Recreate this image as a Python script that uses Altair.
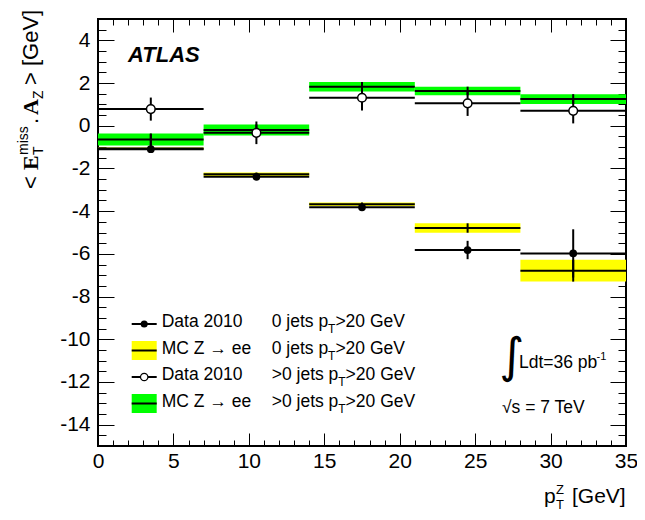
import altair as alt
import pandas as pd

# ---------------- data ----------------
bin_lo = [0, 7, 14, 21, 28]
bin_hi = [7, 14, 21, 28, 35]
bin_center = [3.5, 10.5, 17.5, 24.5, 31.5]

# Data 2010, 0 jets pT>20 GeV (filled circles)
data0 = [-1.10, -2.39, -3.82, -5.82, -5.98]
data0_err_up = [0.71, 0.10, 0.10, 0.43, 1.13]
data0_err_dn = [0.10, 0.10, 0.10, 0.43, 1.13]
# MC Z->ee, 0 jets (yellow band)
mc0 = [-1.07, -2.27, -3.68, -4.79, -6.79]
mc0_err = [0.05, 0.08, 0.08, 0.22, 0.51]
# Data 2010, >0 jets (open circles)
data1 = [0.78, -0.33, 1.31, 1.05, 0.70]
data1_err = [0.54, 0.53, 0.60, 0.59, 0.59]
# MC Z->ee, >0 jets (green band)
mc1 = [-0.64, -0.20, 1.83, 1.63, 1.25]
mc1_err = [0.28, 0.26, 0.22, 0.20, 0.23]

x_major = [0, 5, 10, 15, 20, 25, 30, 35]
x_minor = list(range(0, 36))
y_major = [-14, -12, -10, -8, -6, -4, -2, 0, 2, 4]
y_minor = [v / 2 for v in range(-30, 11)]

df = pd.DataFrame({
    "lo": bin_lo, "hi": bin_hi, "c": bin_center,
    "d0": data0,
    "d0_top": [v + e for v, e in zip(data0, data0_err_up)],
    "d0_bot": [v - e for v, e in zip(data0, data0_err_dn)],
    "m0": mc0,
    "m0_top": [v + e for v, e in zip(mc0, mc0_err)],
    "m0_bot": [v - e for v, e in zip(mc0, mc0_err)],
    "d1": data1,
    "d1_top": [v + e for v, e in zip(data1, data1_err)],
    "d1_bot": [v - e for v, e in zip(data1, data1_err)],
    "m1": mc1,
    "m1_top": [v + e for v, e in zip(mc1, mc1_err)],
    "m1_bot": [v - e for v, e in zip(mc1, mc1_err)],
})

FONT = "Liberation Sans"
SERIF = "Liberation Serif"
W, H = 528, 427
xs = alt.Scale(domain=[0, 35], nice=False, zero=False)
ys = alt.Scale(domain=[-15, 5], nice=False, zero=False)

ax_x = alt.Axis(values=x_major, ticks=False, domain=False, grid=False,
                labelFont=FONT, labelFontSize=21, labelColor="black",
                labelPadding=4, title=None, labelExpr="'' + datum.value",
                labelFlush=False)
ax_y = alt.Axis(values=y_major, ticks=False, domain=False, grid=False,
                labelFont=FONT, labelFontSize=21, labelColor="black",
                labelPadding=8, title=None, labelExpr="'' + datum.value")


def X(f):
    return alt.X(f"{f}:Q", scale=xs, axis=ax_x)


def Y(f):
    return alt.Y(f"{f}:Q", scale=ys, axis=ax_y)


base = alt.Chart(df)
yellow = base.mark_rect(color="#ffff00").encode(x=X("lo"), x2="hi", y=Y("m0_bot"), y2="m0_top")
green = base.mark_rect(color="#00ff00").encode(x=X("lo"), x2="hi", y=Y("m1_bot"), y2="m1_top")
mc0_line = base.mark_rule(color="black", strokeWidth=2).encode(x=X("lo"), x2="hi", y=Y("m0"))
mc1_line = base.mark_rule(color="black", strokeWidth=2).encode(x=X("lo"), x2="hi", y=Y("m1"))
mc0_err_l = base.mark_rule(color="black", strokeWidth=2).encode(x=X("c"), y=Y("m0_bot"), y2="m0_top")
mc1_err_l = base.mark_rule(color="black", strokeWidth=2).encode(x=X("c"), y=Y("m1_bot"), y2="m1_top")
d0_h = base.mark_rule(color="black", strokeWidth=2).encode(x=X("lo"), x2="hi", y=Y("d0"))
d1_h = base.mark_rule(color="black", strokeWidth=2).encode(x=X("lo"), x2="hi", y=Y("d1"))
d0_v = base.mark_rule(color="black", strokeWidth=2).encode(x=X("c"), y=Y("d0_bot"), y2="d0_top")
d1_v = base.mark_rule(color="black", strokeWidth=2).encode(x=X("c"), y=Y("d1_bot"), y2="d1_top")
d0_pt = base.mark_circle(size=60, color="black", opacity=1).encode(x=X("c"), y=Y("d0"))
d1_pt = base.mark_circle(size=75, fill="white", stroke="black", strokeWidth=1.5, opacity=1).encode(x=X("c"), y=Y("d1"))

main = alt.layer(yellow, green, mc0_line, mc1_line, mc0_err_l, mc1_err_l,
                 d0_h, d1_h, d0_v, d1_v, d0_pt, d1_pt)


def tick_layer(xo, xv, xsz, yo, yv, ysz):
    return base.mark_point(opacity=0).encode(
        x=alt.X("c:Q", scale=xs, axis=alt.Axis(
            orient=xo, values=xv, labels=False, domain=False, grid=False,
            tickSize=alt.ExprRef(expr=str(-xsz)), tickColor="black", tickWidth=1, title=None)),
        y=alt.Y("d0:Q", scale=ys, axis=alt.Axis(
            orient=yo, values=yv, labels=False, domain=False, grid=False,
            tickSize=alt.ExprRef(expr=str(-ysz)), tickColor="black", tickWidth=1, title=None)),
    )


t1 = tick_layer("bottom", x_major, 13, "left", y_major, 16)
t2 = tick_layer("bottom", x_minor, 6, "left", y_minor, 8)
t3 = tick_layer("top", x_major, 13, "right", y_major, 16)
t4 = tick_layer("top", x_minor, 6, "right", y_minor, 8)

anno = pd.DataFrame({"k": [0]})


def txt(s, x, y, size=17.5, font=FONT, weight="normal", style="normal",
        angle=0, align="left", baseline="alphabetic"):
    return alt.Chart(anno).mark_text(
        text=s, font=font, fontSize=size, fontWeight=weight, fontStyle=style,
        angle=angle, align=align, baseline=baseline, color="black"
    ).encode(x=alt.value(x), y=alt.value(y))


texts = []
texts.append(txt("ATLAS", 30, 43, size=22, weight="bold", style="italic"))

# legend
rows_b = [308, 334.5, 361, 387.5]
sx1, sx2, sxc = 33.7, 58.7, 46.2
leg_names = ["Data 2010", "MC Z \u2192 ee", "Data 2010", "MC Z \u2192 ee"]
leg_pre = ["0 jets p", "0 jets p", ">0 jets p", ">0 jets p"]
leg_sub_x = [230.1, 230.1, 240.3, 240.3]
leg_post_x = [237.4, 237.4, 247.6, 247.6]
legend_marks = []
band_cols = {1: "#ffff00", 3: "#00ff00"}
for i, b in enumerate(rows_b):
    cy = b - 3
    if i in band_cols:
        legend_marks.append(alt.Chart(anno).mark_rect(color=band_cols[i]).encode(
            x=alt.value(sx1), x2=alt.value(sx2), y=alt.value(cy - 9.5), y2=alt.value(cy + 9.5)))
    legend_marks.append(alt.Chart(anno).mark_rule(color="black", strokeWidth=2).encode(
        x=alt.value(sx1), x2=alt.value(sx2), y=alt.value(cy)))
    if i == 0:
        legend_marks.append(alt.Chart(anno).mark_circle(size=50, color="black", opacity=1).encode(
            x=alt.value(sxc), y=alt.value(cy)))
    if i == 2:
        legend_marks.append(alt.Chart(anno).mark_circle(size=55, fill="white", stroke="black",
                                                          strokeWidth=1.2, opacity=1).encode(
            x=alt.value(sxc), y=alt.value(cy)))
    texts.append(txt(leg_names[i], 63.7, b))
    texts.append(txt(leg_pre[i], 173.7, b))
    texts.append(txt("T", leg_sub_x[i], b + 6, size=12))
    texts.append(txt(">20 GeV", leg_post_x[i], b))

# luminosity / energy
texts.append(txt("\u222b", 414, 338.5, size=48, font="DejaVu Sans", align="center", baseline="middle"))
texts.append(txt("Ldt=36 pb", 421, 349))
texts.append(txt("-1", 498.5, 341, size=11))
texts.append(txt("\u221as = 7 TeV", 404, 394))

# x title
texts.append(txt("p", 446, 484, size=21))
texts.append(txt("T", 458, 490, size=13))
texts.append(txt("Z", 458, 475, size=13))
texts.append(txt("[GeV]", 474, 484, size=21))

# y title (rotated, composed piece by piece)
yb = -60
dy = -30
texts.append(txt("<", yb, 200 + dy, size=22, angle=270))
texts.append(txt("E", yb, 181 + dy, size=22, font=SERIF, weight="bold", angle=270))
texts.append(txt("miss", yb - 10, 166 + dy, size=14, angle=270))
texts.append(txt("T", yb + 5, 166 + dy, size=14, angle=270))
texts.append(txt(".", yb, 135 + dy, size=22, angle=270))
texts.append(txt("A", yb, 126 + dy, size=22, font=SERIF, weight="bold", angle=270))
texts.append(txt("Z", yb + 5, 110 + dy, size=14, angle=270))
texts.append(txt("> [GeV]", yb, 96 + dy, size=22, angle=270))

chart = alt.layer(main, t1, t2, t3, t4, *legend_marks, *texts).resolve_axis(
    x="independent", y="independent"
).properties(
    width=W, height=H,
    autosize=alt.AutoSizeParams(type="none"),
    padding={"left": 90, "top": 11, "right": 11, "bottom": 66},
    background="white",
).configure_view(stroke="black", strokeWidth=2)

chart.save("out.html", embed_options={"renderer": "svg", "actions": False})
